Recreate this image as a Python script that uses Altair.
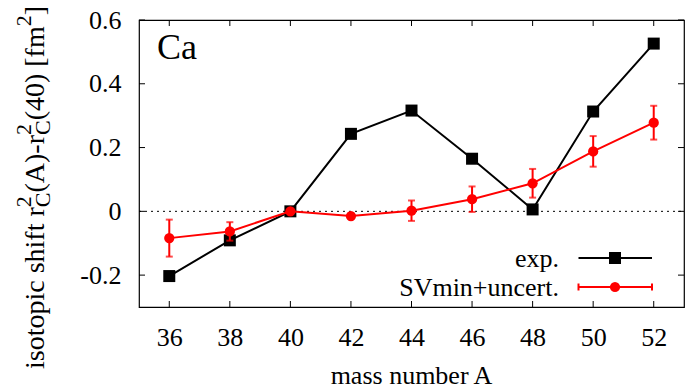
import altair as alt
import pandas as pd

# ---------------- data ----------------
mass = [36, 38, 40, 42, 44, 46, 48, 50, 52]
exp_shift = [-0.203, -0.091, 0.0, 0.243, 0.316, 0.165, 0.006, 0.313, 0.526]
sv_shift = [-0.084, -0.063, 0.0, -0.015, 0.002, 0.038, 0.088, 0.188, 0.278]
sv_err = [0.058, 0.029, 0.0, 0.0, 0.032, 0.040, 0.045, 0.048, 0.053]
x_ticks = [36, 38, 40, 42, 44, 46, 48, 50, 52]
y_ticks = [-0.2, 0.0, 0.2, 0.4, 0.6]
legend_labels = ["exp.", "SVmin+uncert."]
element_label = "Ca"
x_title = "mass number A"

# ---------------- layout / style ----------------
FONT = "'Liberation Serif', 'Times New Roman', Times, 'DejaVu Serif', serif"
W, H = 545, 287
PAD_L, PAD_T = 139, 20
FS = 26
RED = "#ff0000"

df = pd.DataFrame({"mass": mass, "exp": exp_shift, "sv": sv_shift, "err": sv_err})
df["lo"] = df["sv"] - df["err"]
df["hi"] = df["sv"] + df["err"]
xt = pd.DataFrame({"t": x_ticks})
yt = pd.DataFrame({"t": y_ticks})
one = pd.DataFrame({"a": [0]})

xscale = alt.Scale(domain=[35, 53], nice=False, zero=False)
yscale = alt.Scale(domain=[-0.3, 0.6], nice=False, zero=False)
xaxis = alt.Axis(values=x_ticks, ticks=False, domain=False, grid=False, title=None,
                 labelFont=FONT, labelFontSize=FS, labelColor="black", labelPadding=17,
                 labelOverlap=False)
yaxis = alt.Axis(values=y_ticks, ticks=False, domain=False, grid=False, title=None,
                 labelFont=FONT, labelFontSize=FS, labelColor="black", labelPadding=18,
                 labelOverlap=False,
                 labelExpr="replace(format(datum.value, '.1~f'), '\u2212', '-')")


def X(field):
    return alt.X(field, type="quantitative", scale=xscale, axis=xaxis)


def Y(field):
    return alt.Y(field, type="quantitative", scale=yscale, axis=yaxis)


base = alt.Chart(df)

zero_line = alt.Chart(one).mark_rule(color="black", strokeWidth=1, strokeDash=[2, 4]).encode(
    y=alt.Y(datum=0, type="quantitative", scale=yscale, axis=yaxis),
    x=alt.value(0), x2=alt.value(W))

# inward ticks on all four sides
tick_b = alt.Chart(xt).mark_rule(color="black", strokeWidth=1).encode(
    x=X("t"), y=alt.value(H), y2=alt.value(H - 6))
tick_t = alt.Chart(xt).mark_rule(color="black", strokeWidth=1).encode(
    x=X("t"), y=alt.value(0), y2=alt.value(6))
tick_l = alt.Chart(yt).mark_rule(color="black", strokeWidth=1).encode(
    y=Y("t"), x=alt.value(0), x2=alt.value(6))
tick_r = alt.Chart(yt).mark_rule(color="black", strokeWidth=1).encode(
    y=Y("t"), x=alt.value(W), x2=alt.value(W - 6))

exp_line = base.mark_line(color="black", strokeWidth=2).encode(x=X("mass"), y=Y("exp"))
exp_pts = base.mark_point(shape="square", filled=True, color="black", size=144, opacity=1).encode(
    x=X("mass"), y=Y("exp"))

err_bar = base.mark_rule(color=RED, strokeWidth=2).encode(x=X("mass"), y=Y("lo"), y2="hi")
err_cap_lo = base.mark_tick(color=RED, thickness=2, size=7, orient="horizontal").encode(
    x=X("mass"), y=Y("lo"))
err_cap_hi = base.mark_tick(color=RED, thickness=2, size=7, orient="horizontal").encode(
    x=X("mass"), y=Y("hi"))
sv_line = base.mark_line(color=RED, strokeWidth=2).encode(x=X("mass"), y=Y("sv"))
sv_pts = base.mark_point(shape="circle", filled=True, color=RED, size=105, opacity=1).encode(
    x=X("mass"), y=Y("sv"))

layers = [zero_line, tick_b, tick_t, tick_l, tick_r, exp_line, exp_pts,
          err_bar, err_cap_lo, err_cap_hi, sv_line, sv_pts]

# ---------------- legend (manual) ----------------
LX0, LX1, LXM, LTX = 439.5, 513, 476, 420
LY1, LY2 = 238, 267


def txt(s, x, y, size=FS, align="left", angle=None, color="black"):
    kw = dict(font=FONT, fontSize=size, align=align, baseline="alphabetic", color=color)
    if angle is not None:
        kw["angle"] = angle
    return alt.Chart(one).mark_text(**kw).encode(
        x=alt.value(x), y=alt.value(y), text=alt.value(s))


layers += [
    alt.Chart(one).mark_rule(color="black", strokeWidth=2).encode(
        x=alt.value(LX0), x2=alt.value(LX1), y=alt.value(LY1)),
    alt.Chart(one).mark_point(shape="square", filled=True, color="black", size=144, opacity=1).encode(
        x=alt.value(LXM), y=alt.value(LY1)),
    alt.Chart(one).mark_rule(color=RED, strokeWidth=2).encode(
        x=alt.value(LX0), x2=alt.value(LX1), y=alt.value(LY2)),
    alt.Chart(one).mark_rule(color=RED, strokeWidth=2).encode(
        x=alt.value(LX0), y=alt.value(LY2 - 3.5), y2=alt.value(LY2 + 3.5)),
    alt.Chart(one).mark_rule(color=RED, strokeWidth=2).encode(
        x=alt.value(LX1), y=alt.value(LY2 - 3.5), y2=alt.value(LY2 + 3.5)),
    alt.Chart(one).mark_point(shape="circle", filled=True, color=RED, size=105, opacity=1).encode(
        x=alt.value(LXM), y=alt.value(LY2)),
    txt(legend_labels[0], LTX, LY1 + 9, align="right"),
    txt(legend_labels[1], LTX, LY2 + 9, align="right"),
]

# ---------------- texts ----------------
layers.append(txt(element_label, 18, 39, size=36))
layers.append(txt(x_title, W / 2, 364, align="center"))

# y-axis title with super/subscripts, rotated
W_EM = {"i": .278, "s": .389, "o": .5, "t": .278, "p": .5, "c": .444, " ": .25, "h": .5,
        "f": .333, "r": .333, "(": .333, "A": .722, ")": .333, "-": .333, "4": .5, "0": .5,
        "[": .333, "m": .778, "]": .333, "2": .5, "C": .667}


def tw(s, fs):
    return sum(W_EM.get(c, .5) for c in s) * fs


TFS = 28
SFS = 22
BX = 44 - PAD_L
ypos = 369 - PAD_T
ytitle = []


def main(s):
    global ypos
    ytitle.append(txt(s, BX, ypos, size=TFS, angle=270))
    ypos -= tw(s, TFS)


def sup_sub(sup, sub):
    global ypos
    ytitle.append(txt(sup, BX - 13, ypos, size=SFS, angle=270))
    if sub:
        ytitle.append(txt(sub, BX + 6, ypos, size=SFS, angle=270))
    ypos -= max(tw(sup, SFS), tw(sub, SFS) if sub else 0)


main("isotopic shift r")
sup_sub("2", "C")
main("(A)-r")
sup_sub("2", "C")
main("(40) [fm")
sup_sub("2", "")
main("]")
layers += ytitle

chart = alt.layer(*layers).properties(
    width=W, height=H,
    autosize=alt.AutoSizeParams(type="none"),
    padding={"left": PAD_L, "top": PAD_T, "right": 685 - PAD_L - W, "bottom": 390 - PAD_T - H},
    background="white",
).configure_view(stroke="black", strokeWidth=1.2)

chart.save("out.html", embed_options={"renderer": "svg", "actions": False})
